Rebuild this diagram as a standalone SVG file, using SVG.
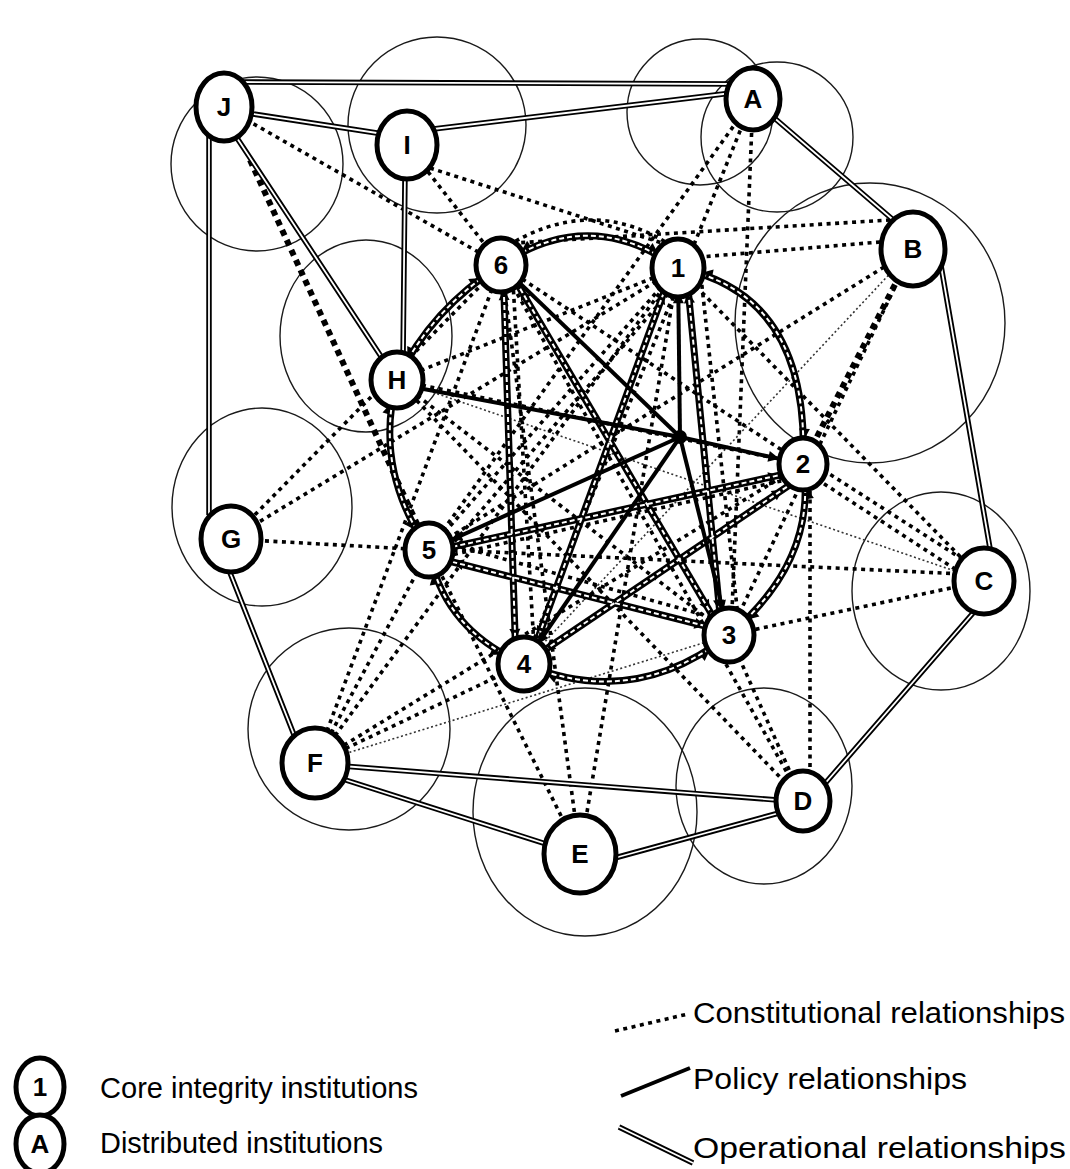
<svg xmlns="http://www.w3.org/2000/svg" width="1070" height="1169" viewBox="0 0 1070 1169">
<style>
.zone{fill:none;stroke:#1a1a1a;stroke-width:1.4}
.opo{fill:none;stroke:#000;stroke-width:5.5}
.opi{fill:none;stroke:#fff;stroke-width:1.8}
.con{fill:none;stroke:#000;stroke-width:3.6;stroke-dasharray:4 4.5}
.conb{fill:none;stroke:#000;stroke-width:6;stroke-dasharray:6 5}
.cont{fill:none;stroke:#333;stroke-width:1.6;stroke-dasharray:2 2.5}
.pol{fill:none;stroke:#000;stroke-width:4}
.lado{fill:none;stroke:#000;stroke-width:7}
.ladi{fill:none;stroke:#fff;stroke-width:2;stroke-dasharray:5 3}
.node ellipse{fill:#fff;stroke:#000;stroke-width:5}
.node text,.lg{font-family:"Liberation Sans",Arial,sans-serif;fill:#000}
.node text{font-size:26px;font-weight:bold;text-anchor:middle}
.lg{font-size:30px}
</style>
<defs>
<marker id="ae" viewBox="0 0 10 10" refX="32" refY="5" markerWidth="11" markerHeight="11" orient="auto" markerUnits="userSpaceOnUse" overflow="visible"><path d="M0,0 L10,5 L0,10 z" fill="#000"/></marker>
<marker id="as" viewBox="0 0 10 10" refX="32" refY="5" markerWidth="11" markerHeight="11" orient="auto-start-reverse" markerUnits="userSpaceOnUse" overflow="visible"><path d="M0,0 L10,5 L0,10 z" fill="#000"/></marker>
</defs>

<g id="zones">
<ellipse class="zone" cx="257" cy="164" rx="86" ry="87"/>
<ellipse class="zone" cx="437" cy="125" rx="89" ry="88"/>
<ellipse class="zone" cx="700" cy="112" rx="73" ry="73"/>
<ellipse class="zone" cx="777" cy="137" rx="76" ry="75"/>
<ellipse class="zone" cx="870" cy="323" rx="135" ry="140"/>
<ellipse class="zone" cx="366" cy="336" rx="86" ry="96"/>
<ellipse class="zone" cx="262" cy="507" rx="90" ry="99"/>
<ellipse class="zone" cx="941" cy="591" rx="89" ry="99"/>
<ellipse class="zone" cx="764" cy="786" rx="88" ry="98"/>
<ellipse class="zone" cx="585" cy="812" rx="112" ry="124"/>
<ellipse class="zone" cx="349" cy="729" rx="101" ry="101"/>
</g>

<g id="connectors">
<!-- constitutional (dotted) -->
<line class="con" x1="224" y1="107" x2="501" y2="265"/>
<line class="conb" x1="250" y1="160" x2="429" y2="550"/>
<line class="con" x1="407" y1="145" x2="501" y2="265"/>
<line class="con" x1="430" y1="168" x2="668" y2="245"/>
<line class="con" x1="753" y1="99" x2="429" y2="550"/>
<line class="con" x1="753" y1="99" x2="524" y2="664"/>
<line class="con" x1="753" y1="99" x2="731" y2="635"/>
<line class="con" x1="890" y1="220" x2="515" y2="243"/>
<line class="con" x1="880" y1="242" x2="700" y2="257"/>
<line class="con" x1="913" y1="249" x2="429" y2="550"/>
<line class="cont" x1="913" y1="249" x2="524" y2="664"/>
<line class="conb" x1="905" y1="265" x2="803" y2="464"/>
<line class="con" x1="913" y1="249" x2="729" y2="635"/>
<line class="con" x1="984" y1="581" x2="678" y2="268"/>
<line class="con" x1="984" y1="573" x2="803" y2="457"/>
<line class="con" x1="984" y1="588" x2="806" y2="472"/>
<line class="cont" x1="984" y1="581" x2="397" y2="380"/>
<line class="con" x1="984" y1="575" x2="429" y2="549"/>
<line class="con" x1="984" y1="581" x2="729" y2="635"/>
<line class="con" x1="803" y1="801" x2="397" y2="380"/>
<line class="con" x1="803" y1="801" x2="501" y2="265"/>
<line class="con" x1="803" y1="801" x2="729" y2="635"/>
<line class="con" x1="810" y1="801" x2="810" y2="470"/>
<line class="con" x1="580" y1="854" x2="501" y2="265"/>
<line class="con" x1="580" y1="854" x2="678" y2="268"/>
<line class="con" x1="580" y1="854" x2="429" y2="550"/>
<line class="con" x1="315" y1="763" x2="501" y2="265"/>
<line class="con" x1="315" y1="763" x2="429" y2="550"/>
<line class="con" x1="315" y1="763" x2="678" y2="268"/>
<line class="con" x1="315" y1="763" x2="803" y2="464"/>
<line class="con" x1="315" y1="763" x2="524" y2="664"/>
<line class="cont" x1="315" y1="763" x2="729" y2="635"/>
<line class="con" x1="231" y1="539" x2="501" y2="265"/>
<line class="con" x1="231" y1="539" x2="678" y2="268"/>
<line class="con" x1="231" y1="539" x2="429" y2="550"/>
<line class="con" x1="397" y1="380" x2="729" y2="635"/>
<line class="con" x1="397" y1="380" x2="803" y2="464"/>
<line class="con" x1="397" y1="380" x2="678" y2="268"/>
<line class="con" x1="501" y1="265" x2="803" y2="464"/>
<line class="con" x1="678" y1="268" x2="429" y2="550"/>
<line class="con" x1="690" y1="268" x2="442" y2="556"/>
<line class="con" x1="512" y1="265" x2="535" y2="664"/>
<line class="con" x1="700" y1="268" x2="740" y2="635"/>
<line class="con" x1="429" y1="560" x2="803" y2="476"/>
<line class="con" x1="429" y1="538" x2="729" y2="622"/>
<path class="con" d="M501,250 Q592,190 678,250"/>

<!-- operational (double) -->
<g>
<path class="opo" d="M240,82 L735,84 M240,112 L390,135 M425,130 L740,92 M209,130 L209,515 M235,135 L390,370 M405,175 L403,360 M765,110 L905,230 M940,260 L992,560 M980,605 L815,795 M790,810 L600,862 M330,765 L790,801 M330,775 L565,850 M225,560 L300,750"/>
<path class="opi" d="M240,82 L735,84 M240,112 L390,135 M425,130 L740,92 M209,130 L209,515 M235,135 L390,370 M405,175 L403,360 M765,110 L905,230 M940,260 L992,560 M980,605 L815,795 M790,810 L600,862 M330,765 L790,801 M330,775 L565,850 M225,560 L300,750"/>
</g>

<!-- ring arcs (hatched, two-way) -->
<g>
<path class="lado" d="M501,265 Q590,205 678,268" marker-start="url(#as)" marker-end="url(#ae)"/>
<path class="lado" d="M678,268 Q810,294 803,464" marker-start="url(#as)" marker-end="url(#ae)"/>
<path class="lado" d="M803,464 Q818,560 729,635" marker-start="url(#as)" marker-end="url(#ae)"/>
<path class="lado" d="M729,635 Q633,710 524,664" marker-start="url(#as)" marker-end="url(#ae)"/>
<path class="lado" d="M524,664 Q443,629 429,550" marker-start="url(#as)" marker-end="url(#ae)"/>
<path class="lado" d="M429,550 Q373,469 397,380" marker-start="url(#as)" marker-end="url(#ae)"/>
<path class="lado" d="M397,380 Q431,309 501,265" marker-start="url(#as)" marker-end="url(#ae)"/>
<path class="ladi" d="M501,265 Q590,205 678,268 M678,268 Q810,294 803,464 M803,464 Q818,560 729,635 M729,635 Q633,710 524,664 M524,664 Q443,629 429,550 M429,550 Q373,469 397,380 M397,380 Q431,309 501,265"/>
</g>

<!-- core hatched chords -->
<g>
<line class="lado" x1="503" y1="265" x2="516" y2="664" marker-start="url(#as)" marker-end="url(#ae)"/>
<line class="lado" x1="508" y1="268" x2="722" y2="632" marker-start="url(#as)" marker-end="url(#ae)"/>
<line class="lado" x1="672" y1="270" x2="530" y2="660" marker-start="url(#as)" marker-end="url(#ae)"/>
<line class="lado" x1="686" y1="268" x2="722" y2="635" marker-start="url(#as)" marker-end="url(#ae)"/>
<line class="lado" x1="429" y1="552" x2="803" y2="470" marker-start="url(#as)" marker-end="url(#ae)"/>
<line class="lado" x1="524" y1="664" x2="803" y2="476" marker-start="url(#as)" marker-end="url(#ae)"/>
<line class="lado" x1="429" y1="556" x2="729" y2="632" marker-start="url(#as)" marker-end="url(#ae)"/>
<path class="ladi" d="M503,265 L516,664 M508,268 L722,632 M672,270 L530,660 M686,268 L722,635 M429,552 L803,470 M524,664 L803,476 M429,556 L729,632"/>
</g>

<!-- policy (solid) -->
<g>
<line class="pol" x1="397" y1="384" x2="680" y2="437"/>
<line class="pol" x1="501" y1="265" x2="680" y2="437"/>
<line class="pol" x1="680" y1="437" x2="678" y2="268" marker-end="url(#ae)"/>
<line class="pol" x1="680" y1="437" x2="803" y2="464" marker-end="url(#ae)"/>
<line class="pol" x1="680" y1="437" x2="729" y2="635" marker-end="url(#ae)"/>
<line class="pol" x1="680" y1="437" x2="524" y2="664" marker-end="url(#ae)"/>
<line class="pol" x1="680" y1="437" x2="429" y2="550" marker-end="url(#ae)"/>
<circle cx="680" cy="437" r="7" fill="#000"/>
</g>
</g>

<g id="node-J" class="node"><ellipse cx="224" cy="107" rx="28" ry="34"/><text x="224" y="116">J</text></g>
<g id="node-I" class="node"><ellipse cx="407" cy="145" rx="30" ry="34"/><text x="407" y="154">I</text></g>
<g id="node-A" class="node"><ellipse cx="753" cy="99" rx="27" ry="31"/><text x="753" y="108">A</text></g>
<g id="node-B" class="node"><ellipse cx="913" cy="249" rx="32" ry="37"/><text x="913" y="258">B</text></g>
<g id="node-C" class="node"><ellipse cx="984" cy="581" rx="30" ry="33"/><text x="984" y="590">C</text></g>
<g id="node-D" class="node"><ellipse cx="803" cy="801" rx="27" ry="30"/><text x="803" y="810">D</text></g>
<g id="node-E" class="node"><ellipse cx="580" cy="854" rx="36" ry="39"/><text x="580" y="863">E</text></g>
<g id="node-F" class="node"><ellipse cx="315" cy="763" rx="33" ry="35"/><text x="315" y="772">F</text></g>
<g id="node-G" class="node"><ellipse cx="231" cy="539" rx="30" ry="33"/><text x="231" y="548">G</text></g>
<g id="node-H" class="node"><ellipse cx="397" cy="380" rx="26" ry="28"/><text x="397" y="389">H</text></g>
<g id="node-6" class="node"><ellipse cx="501" cy="265" rx="25" ry="27"/><text x="501" y="274">6</text></g>
<g id="node-1" class="node"><ellipse cx="678" cy="268" rx="26" ry="29"/><text x="678" y="277">1</text></g>
<g id="node-2" class="node"><ellipse cx="803" cy="464" rx="24" ry="26"/><text x="803" y="473">2</text></g>
<g id="node-3" class="node"><ellipse cx="729" cy="635" rx="25" ry="27"/><text x="729" y="644">3</text></g>
<g id="node-4" class="node"><ellipse cx="524" cy="664" rx="26" ry="27"/><text x="524" y="673">4</text></g>
<g id="node-5" class="node"><ellipse cx="429" cy="550" rx="24" ry="27"/><text x="429" y="559">5</text></g>

<g id="legend">
<g id="legend-core" class="node"><ellipse cx="40" cy="1087" rx="24" ry="29"/><text x="40" y="1096">1</text></g>
<g id="legend-dist" class="node"><ellipse cx="40" cy="1144" rx="24" ry="29"/><text x="40" y="1153">A</text></g>
<text class="lg" x="100" y="1098" textLength="318" lengthAdjust="spacingAndGlyphs">Core integrity institutions</text>
<text class="lg" x="100" y="1153" textLength="283" lengthAdjust="spacingAndGlyphs">Distributed institutions</text>
<line class="con" x1="615" y1="1031" x2="688" y2="1014"/>
<line class="pol" x1="621" y1="1096" x2="690" y2="1068"/>
<line class="opo" x1="619" y1="1127" x2="693" y2="1163"/>
<line class="opi" x1="619" y1="1127" x2="693" y2="1163"/>
<text class="lg" x="693" y="1023" textLength="372" lengthAdjust="spacingAndGlyphs">Constitutional relationships</text>
<text class="lg" x="693" y="1089" textLength="274" lengthAdjust="spacingAndGlyphs">Policy relationships</text>
<text class="lg" x="693" y="1158" textLength="373" lengthAdjust="spacingAndGlyphs">Operational relationships</text>
</g>
</svg>
